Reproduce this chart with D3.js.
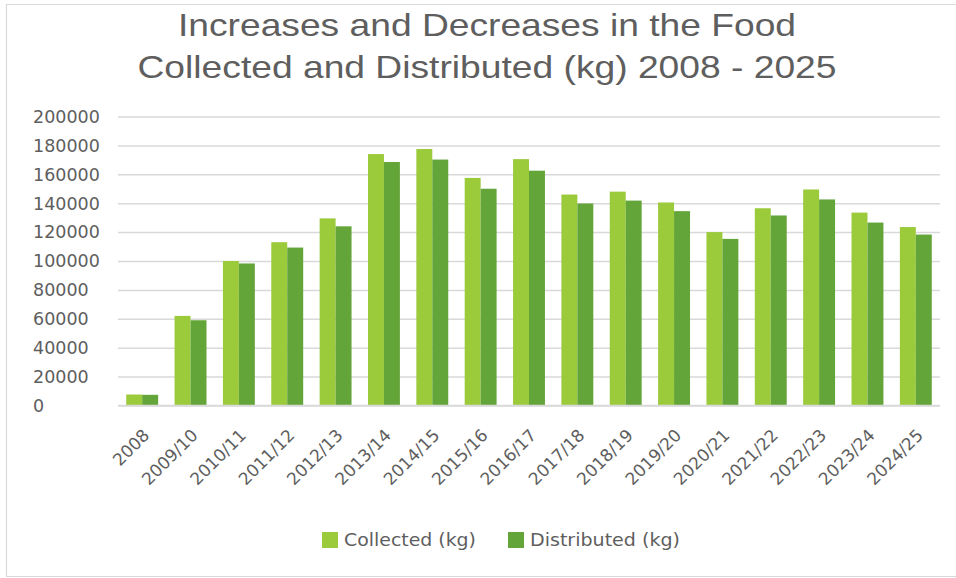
<!DOCTYPE html>
<html>
<head>
<meta charset="utf-8">
<script src="https://cdn.jsdelivr.net/npm/d3@7"></script>
<style>
  html, body { margin: 0; padding: 0; background: #fff; overflow: hidden; }
  svg { display: block; }
</style>
</head>
<body>
<svg id="chart" width="956" height="578"></svg>
<script>
const categories = ["2008","2009/10","2010/11","2011/12","2012/13","2013/14","2014/15","2015/16","2016/17","2017/18","2018/19","2019/20","2020/21","2021/22","2022/23","2023/24","2024/25"];
const collected   = [7600, 62000, 100000, 113000, 129500, 174000, 177500, 157500, 170500, 146000, 148000, 140500, 120000, 136500, 149500, 133500, 123500];
const distributed = [7400, 59000, 98300, 109300, 124000, 168500, 170200, 150000, 162500, 139800, 141800, 134500, 115300, 131500, 142600, 126600, 118300];
const seriesNames = ["Collected (kg)", "Distributed (kg)"];
const yTicks = [0, 20000, 40000, 60000, 80000, 100000, 120000, 140000, 160000, 180000, 200000];
const titleLines = ["Increases and Decreases in the Food", "Collected and Distributed (kg) 2008 - 2025"];

const colors = ["#9BCA3B", "#64A539"];
const textColor = "#5E5E5E";
const gridColor = "#D9D9D9";

const svg = d3.select("#chart");

// frame (left, top, bottom edges visible; right edge runs past the picture)
svg.append("path")
  .attr("d", "M956,4.5 H6.5 V576.5 H956")
  .attr("fill", "none").attr("stroke", "#D9D9D9").attr("stroke-width", 1.2);

// title
const titleWidths = [618, 699];
const titleBaselines = [36, 78];
svg.selectAll("text.title").data(titleLines).join("text")
  .attr("class", "title")
  .attr("x", 487)
  .attr("y", (d, i) => titleBaselines[i])
  .attr("text-anchor", "middle")
  .attr("font-family", "'Liberation Sans', Arial, sans-serif")
  .attr("font-size", 32)
  .attr("fill", textColor)
  .attr("textLength", (d, i) => titleWidths[i])
  .attr("lengthAdjust", "spacingAndGlyphs")
  .text(d => d);

const x = d3.scaleBand().domain(categories).range([118, 940]).paddingInner(0.34).paddingOuter(0.17);
const xs = d3.scaleBand().domain(seriesNames).range([0, x.bandwidth()]);
const y = d3.scaleLinear().domain([0, 200000]).range([405.5, 116.5]);

// gridlines
const yAxis = d3.axisLeft(y).tickValues(yTicks).tickSize(-(940 - 118)).tickFormat("");
const gy = svg.append("g").attr("transform", "translate(118,0)").call(yAxis);
gy.select(".domain").remove();
gy.selectAll(".tick line").attr("stroke", gridColor).attr("stroke-width", 1.5);

// y labels (left aligned)
svg.selectAll("text.ylab").data(yTicks).join("text")
  .attr("class", "ylab")
  .attr("x", 33)
  .attr("y", d => y(d))
  .attr("dy", "0.36em")
  .attr("font-family", "'DejaVu Sans', sans-serif")
  .attr("font-size", 17.5)
  .attr("fill", textColor)
  .text(d => d);

// bars
const rows = categories.map((c, i) => ({ cat: c, vals: [collected[i], distributed[i]] }));
const groups = svg.selectAll("g.grp").data(rows).join("g")
  .attr("class", "grp")
  .attr("transform", d => `translate(${x(d.cat)},0)`);
groups.selectAll("rect").data(d => d.vals.map((v, k) => ({ v, k }))).join("rect")
  .attr("x", d => xs(seriesNames[d.k]))
  .attr("width", xs.bandwidth())
  .attr("y", d => y(d.v))
  .attr("height", d => y(0) - y(d.v))
  .attr("fill", d => colors[d.k]);

// baseline
svg.append("line")
  .attr("x1", 118).attr("x2", 940)
  .attr("y1", y(0)).attr("y2", y(0))
  .attr("stroke", gridColor).attr("stroke-width", 1.5);

// x labels
svg.selectAll("text.xlab").data(categories).join("text")
  .attr("class", "xlab")
  .attr("transform", d => `translate(${x(d) + x.bandwidth() / 2 + 4},432) rotate(-45)`)
  .attr("text-anchor", "end")
  .attr("dy", "0.36em")
  .attr("font-family", "'DejaVu Sans', sans-serif")
  .attr("font-size", 17)
  .attr("fill", textColor)
  .text(d => d);

// legend
const legendX = [322, 508];
const legendW = [132, 150];
const lg = svg.selectAll("g.leg").data(seriesNames).join("g")
  .attr("class", "leg")
  .attr("transform", (d, i) => `translate(${legendX[i]},532)`);
lg.append("rect").attr("width", 16).attr("height", 16).attr("fill", (d, i) => colors[i]);
lg.append("text")
  .attr("x", 22).attr("y", 8).attr("dy", "0.36em")
  .attr("font-family", "'DejaVu Sans', sans-serif")
  .attr("font-size", 17)
  .attr("fill", textColor)
  .attr("textLength", (d, i) => legendW[i])
  .attr("lengthAdjust", "spacingAndGlyphs")
  .text(d => d);
</script>
</body>
</html>
